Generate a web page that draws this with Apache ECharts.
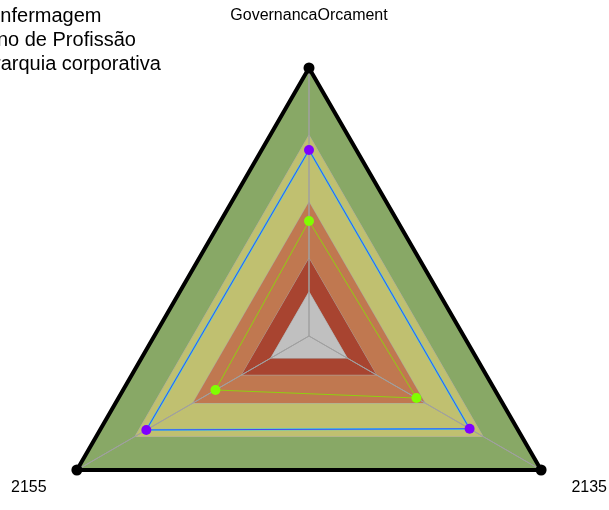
<!DOCTYPE html>
<html>
<head>
<meta charset="utf-8">
<script src="https://cdn.jsdelivr.net/npm/echarts@6/dist/echarts.min.js"></script>
<style>
  html, body { margin: 0; padding: 0; background: #fff; }
  #chart { width: 609px; height: 510px; }
</style>
</head>
<body>
<div id="chart"></div>
<script>
// indicators (top, bottom-left, bottom-right)
var indicatorNames = ["GovernancaOrcament", "2155", "2135"];
var axisMax = 100;

// background bands, outer to inner
var bandLevels = [100, 75, 50, 29, 16.5];
var bandColors = ["#88a866", "#c0c070", "#c07850", "#a84430", "#c0c0c0"];

// series
var seriesNames = ["Enfermagem", "Plano de Profissão", "Hierarquia corporativa"];
var enfermagem = [69.4, 70.1, 69.2];
var planoProfissao = [42.9, 40.3, 46.3];
var hierarquia = [69.4, 70.1, 69.2];

var myChart = echarts.init(document.getElementById("chart"));

var series = [];
bandLevels.forEach(function(v, i) {
  series.push({
    type: "radar",
    silent: true,
    symbol: "none",
    z: 1,
    lineStyle: { color: "#a8a8a8", width: 1 },
    areaStyle: { color: bandColors[i], opacity: 1 },
    data: [{ value: [v, v, v] }]
  });
});
// axis spokes drawn above the bands
for (var k = 0; k < 3; k++) {
  var spoke = [0, 0, 0];
  spoke[k] = axisMax;
  series.push({
    type: "radar",
    silent: true,
    symbol: "none",
    z: 1,
    lineStyle: { color: "#a0a0a0", width: 1 },
    data: [{ value: spoke }]
  });
}
// outer black frame
series.push({
  type: "radar",
  silent: true,
  z: 2,
  symbol: "circle",
  symbolSize: 11,
  itemStyle: { color: "#000" },
  lineStyle: { color: "#000", width: 4 },
  data: [{ value: [axisMax, axisMax, axisMax] }]
});
series.push({
  name: seriesNames[2],
  type: "radar",
  z: 3,
  symbol: "none",
  itemStyle: { color: "#30d8e8" },
  lineStyle: { color: "#30d8e8", width: 1.8 },
  data: [{ value: hierarquia, name: seriesNames[2] }]
});
series.push({
  name: seriesNames[0],
  type: "radar",
  z: 3,
  symbol: "circle",
  symbolSize: 10,
  itemStyle: { color: "#7f00ff" },
  lineStyle: { color: "#4848f0", width: 1 },
  data: [{ value: enfermagem, name: seriesNames[0] }]
});
series.push({
  name: seriesNames[1],
  type: "radar",
  z: 3,
  symbol: "circle",
  symbolSize: 10,
  itemStyle: { color: "#80ff00" },
  lineStyle: { color: "#90d010", width: 1 },
  data: [{ value: planoProfissao, name: seriesNames[1] }]
});

function legendAt(name, left, top) {
  return {
    data: [name],
    left: left,
    top: top,
    padding: 0,
    itemWidth: 25,
    itemHeight: 14,
    textStyle: { fontSize: 20, color: "#000", fontFamily: "Liberation Sans, Arial, sans-serif" }
  };
}

myChart.setOption({
  animation: false,
  legend: [
    legendAt(seriesNames[0], -43, 6),
    legendAt(seriesNames[1], -62, 30),
    legendAt(seriesNames[2], -66, 54)
  ],
  radar: {
    center: [309, 336],
    radius: 268,
    startAngle: 90,
    splitNumber: 4,
    indicator: indicatorNames.map(function(n) { return { name: n, max: axisMax, min: 0 }; }),
    shape: "polygon",
    axisName: {
      color: "#000",
      fontSize: 16,
      fontFamily: "Liberation Sans, Arial, sans-serif",
      formatter: function(value) {
        return value === indicatorNames[0] ? "{t|" + value + "}" : value;
      },
      rich: {
        t: { fontSize: 16, color: "#000", padding: [0, 0, 9, 0] }
      }
    },
    nameGap: 35,
    axisLine: { show: false },
    splitLine: { show: false },
    splitArea: { show: false },
    axisTick: { show: false },
    axisLabel: { show: false }
  },
  series: series
});
</script>
</body>
</html>
